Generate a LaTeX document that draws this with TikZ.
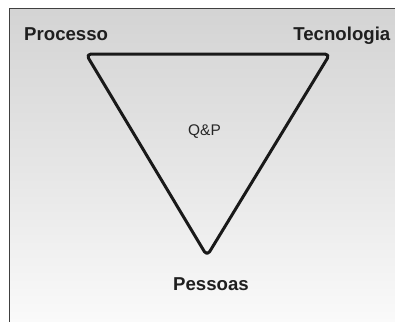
\documentclass[tikz,border=0pt]{standalone}
\usepackage{fontspec}
\setmainfont{Liberation Sans}
\begin{document}
\begin{tikzpicture}[x=1bp,y=-1bp,
  lbl/.style={font=\fontsize{18.7}{21}\selectfont\bfseries, text=black!88, inner sep=0pt, anchor=base},
  tri/.style={draw=black!90, line width=3bp, rounded corners=5bp, line join=round}]
\useasboundingbox (0,0) rectangle (395,322);
\fill[white] (0,0) rectangle (395,322);
\shade[top color=black!17, bottom color=black!2, middle color=black!10] (9,8.5) rectangle (395,322);
\draw[black!75, line width=1bp] (9,322) -- (9,8.5) -- (395,8.5);
\coordinate (tl) at (86,54);
\coordinate (tr) at (330,54);
\coordinate (bt) at (207,256);
\draw[tri] (tl) -- (tr) -- (bt) -- cycle;
\node[lbl, anchor=base west] (proc) at (24,40) {Processo};
\node[lbl, anchor=base east] (tec) at (390.5,40) {Tecnologia};
\node[lbl] (pes) at (211,290) {Pessoas};
\node[font=\fontsize{15.5}{18}\selectfont, text=black!85, inner sep=0pt, anchor=base] (qp) at (204.5,135.7) {Q\&P};
\end{tikzpicture}
\end{document}
